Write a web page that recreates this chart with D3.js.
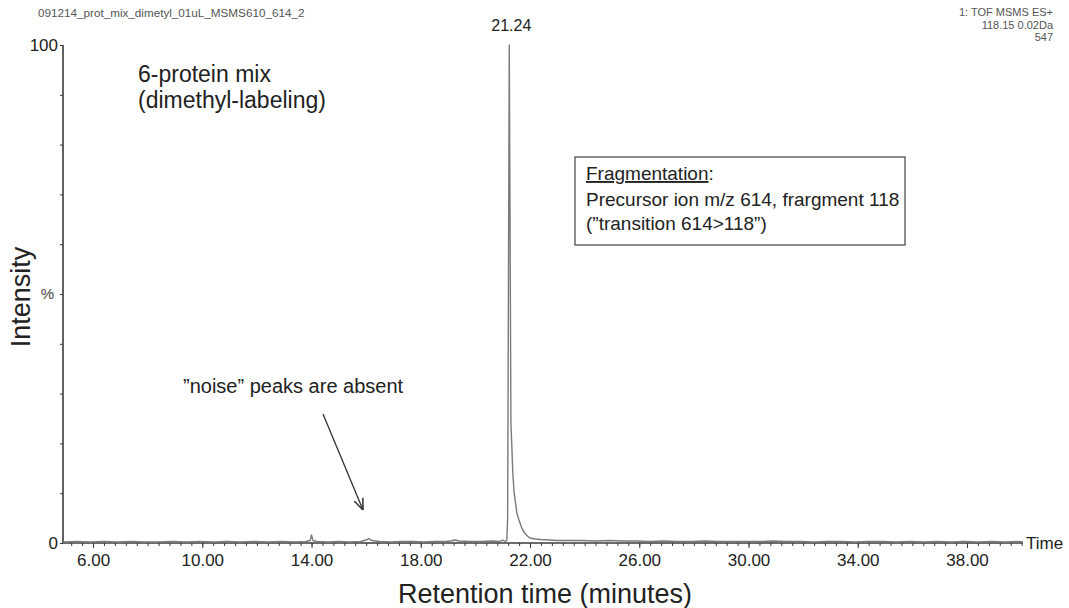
<!DOCTYPE html>
<html>
<head>
<meta charset="utf-8">
<script src="https://cdn.jsdelivr.net/npm/d3@7"></script>
<style>
  body { margin: 0; background: #fff; }
  svg { font-family: "Liberation Sans", Arial, sans-serif; }
</style>
</head>
<body>
<div id="chart"></div>
<script>
// Chromatogram data (retention time in minutes, intensity in %)
const times = [
  4.9, 5.4, 5.9, 6.4, 6.9, 7.4, 7.9, 8.4, 8.9, 9.4, 9.9, 10.4, 10.9, 11.4, 11.9,
  12.4, 12.9, 13.4, 13.8, 13.95, 14.0, 14.05, 14.2, 14.6, 15.0, 15.4, 15.8, 16.0,
  16.1, 16.2, 16.5, 16.9, 17.3, 17.7, 18.1, 18.5, 18.9, 19.1, 19.25, 19.4, 19.8,
  20.2, 20.6, 20.9, 21.0, 21.1, 21.15, 21.18, 21.24, 21.28, 21.30, 21.33, 21.37,
  21.42, 21.47, 21.52, 21.60, 21.70, 21.80, 21.90, 22.0, 22.2, 22.4, 22.7, 23.0, 23.4,
  23.9, 24.4, 24.9, 25.4, 25.9, 26.4, 26.9, 27.4, 27.9, 28.4, 28.9, 29.4, 29.9,
  30.4, 30.9, 31.4, 31.9, 32.4, 32.9, 33.4, 33.9, 34.4, 34.9, 35.4, 35.9, 36.4,
  36.9, 37.4, 37.9, 38.4, 38.9, 39.4, 39.9, 40.05
];
const intensity = [
  0.2, 0.3, 0.2, 0.3, 0.2, 0.3, 0.2, 0.2, 0.3, 0.2, 0.3, 0.2, 0.3, 0.2, 0.3,
  0.2, 0.3, 0.2, 0.3, 0.5, 1.6, 0.5, 0.3, 0.2, 0.3, 0.2, 0.3, 0.6,
  0.9, 0.5, 0.3, 0.2, 0.3, 0.3, 0.2, 0.3, 0.3, 0.4, 0.6, 0.4, 0.3,
  0.3, 0.4, 0.3, 0.6, 0.3, 0.5, 5, 100, 50, 24, 20, 14,
  10, 8, 6, 4.5, 3, 2, 1.4, 1.0, 0.8, 0.7, 0.6, 0.5, 0.5,
  0.5, 0.4, 0.5, 0.4, 0.4, 0.3, 0.4, 0.3, 0.3, 0.4, 0.3, 0.3, 0.3,
  0.3, 0.4, 0.3, 0.3, 0.2, 0.3, 0.3, 0.2, 0.3, 0.3, 0.2, 0.3, 0.2,
  0.3, 0.2, 0.3, 0.2, 0.3, 0.2, 0.3, 0.2
];
const xLabelTicks = [6, 10, 14, 18, 22, 26, 30, 34, 38];
const yTicks = [0, 10, 20, 30, 40, 50, 60, 70, 80, 90, 100];
const yTickLabels = { 0: "0", 50: "%", 100: "100" };
const fileName = "091214_prot_mix_dimetyl_01uL_MSMS610_614_2";
const headerRight = ["1: TOF MSMS ES+", "118.15 0.02Da", "547"];
const peakLabel = { time: 21.24, text: "21.24" };
const boxLines = ["Precursor ion m/z 614, frargment 118", "(\u201dtransition 614>118\u201d)"];

const width = 1069, height = 608;
const svg = d3.select("#chart").append("svg")
  .attr("width", width)
  .attr("height", height);

const x = d3.scaleLinear().domain([4.9, 40.05]).range([63, 1023]);
const y = d3.scaleLinear().domain([0, 100]).range([543, 45]);

const axisColor = "#3a3a3a";
const textColor = "#222";

// x axis: minor ticks every 0.4 min, labelled ticks every 4 min
const xAxis = svg.append("g")
  .attr("transform", `translate(0,${y(0)})`)
  .call(d3.axisBottom(x)
    .tickValues(d3.range(5.2, 40.05, 0.4).map(v => +v.toFixed(1)))
    .tickSize(3)
    .tickFormat(""));
xAxis.select(".domain").attr("stroke", axisColor).attr("stroke-width", 1.6)
  .attr("d", `M${x(4.9)},0H${x(40.05)}`);
xAxis.selectAll(".tick line").attr("stroke", axisColor);

const xLabels = svg.append("g")
  .attr("transform", `translate(0,${y(0)})`)
  .call(d3.axisBottom(x)
    .tickValues(xLabelTicks)
    .tickSize(5)
    .tickPadding(6)
    .tickFormat(d3.format(".2f")));
xLabels.select(".domain").remove();
xLabels.selectAll(".tick line").attr("stroke", axisColor);
xLabels.selectAll(".tick text")
  .attr("font-size", 17)
  .attr("fill", textColor)
  .attr("font-family", "Liberation Sans, Arial, sans-serif");

// y axis
const yAxis = svg.append("g")
  .attr("transform", `translate(${x(4.9)},0)`)
  .call(d3.axisLeft(y)
    .tickValues(yTicks)
    .tickSize(3)
    .tickPadding(2)
    .tickFormat(d => yTickLabels[d] || ""));
yAxis.select(".domain").attr("stroke", axisColor).attr("stroke-width", 1.6)
  .attr("d", `M0,${y(100)}V${y(0)}`);
yAxis.selectAll(".tick line").attr("stroke", axisColor);
yAxis.selectAll(".tick text")
  .attr("font-size", 17)
  .attr("fill", textColor)
  .attr("font-family", "Liberation Sans, Arial, sans-serif");
yAxis.selectAll(".tick text").filter(d => d === 50)
  .attr("font-size", 15).attr("dx", -4).attr("fill", "#444");

// trace
const line = d3.line()
  .x((d, i) => x(times[i]))
  .y(d => y(d));

svg.append("path")
  .datum(intensity)
  .attr("fill", "none")
  .attr("stroke", "#7a7a7a")
  .attr("stroke-width", 1.4)
  .attr("stroke-linejoin", "round")
  .attr("d", line);

// headers
svg.append("text")
  .attr("x", 38).attr("y", 17)
  .attr("font-size", 11.7)
  .attr("fill", "#555")
  .text(fileName);

svg.selectAll(".hdr")
  .data(headerRight)
  .join("text")
  .attr("x", 1053)
  .attr("y", (d, i) => 16 + i * 12.5)
  .attr("text-anchor", "end")
  .attr("font-size", 11)
  .attr("fill", "#555")
  .text(d => d);

// peak label
svg.append("text")
  .attr("x", x(peakLabel.time) + 2)
  .attr("y", 31)
  .attr("text-anchor", "middle")
  .attr("font-size", 16)
  .attr("fill", textColor)
  .text(peakLabel.text);

// sample description
svg.append("text")
  .attr("x", 138).attr("y", 82)
  .attr("font-size", 23)
  .attr("fill", textColor)
  .text("6-protein mix");
svg.append("text")
  .attr("x", 138).attr("y", 108)
  .attr("font-size", 23)
  .attr("fill", textColor)
  .text("(dimethyl-labeling)");

// fragmentation box
svg.append("rect")
  .attr("x", 575).attr("y", 157)
  .attr("width", 330).attr("height", 88)
  .attr("fill", "none")
  .attr("stroke", "#444")
  .attr("stroke-width", 1.2);

const fragTitle = svg.append("text")
  .attr("x", 586).attr("y", 180)
  .attr("font-size", 19)
  .attr("fill", textColor);
fragTitle.append("tspan").attr("text-decoration", "underline").text("Fragmentation");
fragTitle.append("tspan").text(":");

svg.selectAll(".boxline")
  .data(boxLines)
  .join("text")
  .attr("x", 586)
  .attr("y", (d, i) => 206 + i * 24)
  .attr("font-size", 19)
  .attr("fill", textColor)
  .text(d => d);

// noise annotation
svg.append("text")
  .attr("x", 183).attr("y", 393)
  .attr("font-size", 20)
  .attr("fill", textColor)
  .text("\u201dnoise\u201d peaks are absent");

svg.append("defs").append("marker")
  .attr("id", "arrow")
  .attr("viewBox", "0 0 10 10")
  .attr("refX", 10).attr("refY", 5)
  .attr("markerWidth", 9).attr("markerHeight", 9)
  .attr("orient", "auto")
  .append("path")
  .attr("d", "M0,1L10,5L0,9")
  .attr("fill", "none")
  .attr("stroke", "#333")
  .attr("stroke-width", 1.3);

svg.append("line")
  .attr("x1", 323).attr("y1", 414)
  .attr("x2", 363).attr("y2", 510)
  .attr("stroke", "#333")
  .attr("stroke-width", 1.3)
  .attr("marker-end", "url(#arrow)");

// axis titles
svg.append("text")
  .attr("x", x(40.05) + 3).attr("y", y(0) + 6)
  .attr("font-size", 17)
  .attr("fill", textColor)
  .text("Time");

svg.append("text")
  .attr("x", 545).attr("y", 603)
  .attr("text-anchor", "middle")
  .attr("font-size", 27)
  .attr("fill", textColor)
  .text("Retention time (minutes)");

svg.append("text")
  .attr("transform", `translate(30,297) rotate(-90)`)
  .attr("text-anchor", "middle")
  .attr("font-size", 27)
  .attr("fill", textColor)
  .text("Intensity");
</script>
</body>
</html>
